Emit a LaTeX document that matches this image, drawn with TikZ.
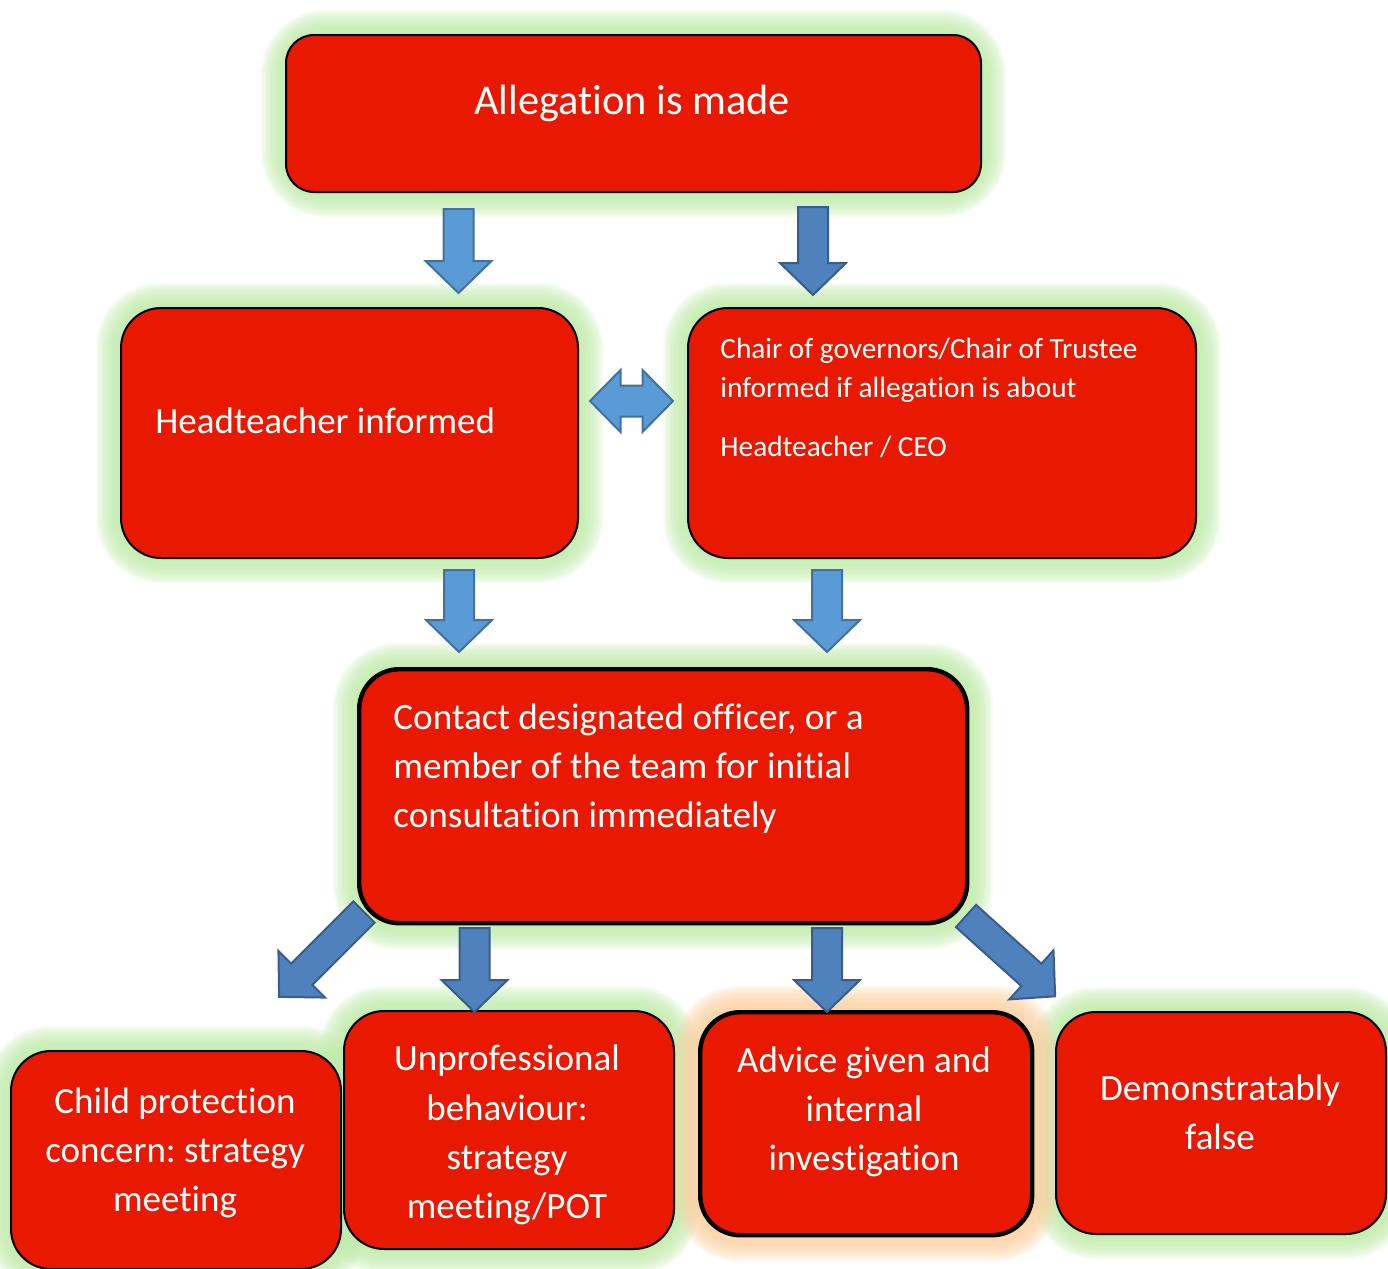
\documentclass[tikz,border=0pt]{standalone}
\usepackage{fontspec}
\setmainfont{Carlito}[Ligatures=CommonOff]
\frenchspacing
\usetikzlibrary{backgrounds}

\definecolor{boxred}{RGB}{232,25,0}
\definecolor{glowgreen}{RGB}{190,234,168}
\definecolor{gloworange}{RGB}{252,208,160}
\definecolor{lightfill}{RGB}{91,155,213}
\definecolor{lightline}{RGB}{65,113,156}
\definecolor{darkfill}{RGB}{79,129,189}
\definecolor{darkline}{RGB}{56,93,138}

\tikzset{
  downarrow/.pic = {
    \filldraw (-7.5pt,0pt) -- (-7.5pt,-#1pt+16pt) -- (-16.5pt,-#1pt+16pt) -- (0pt,-#1pt)
      -- (16.5pt,-#1pt+16pt) -- (7.5pt,-#1pt+16pt) -- (7.5pt,0pt) -- cycle;
  },
  twoway/.pic = {
    \filldraw (-20.75pt,0pt) -- (-5.5pt,15.5pt) -- (-5.5pt,7.75pt) -- (5.5pt,7.75pt) -- (5.5pt,15.5pt)
      -- (20.75pt,0pt) -- (5.5pt,-15.5pt) -- (5.5pt,-7.75pt) -- (-5.5pt,-7.75pt) -- (-5.5pt,-15.5pt) -- cycle;
  }
}

\begin{document}
\begin{tikzpicture}[
    x=0.5pt, y=-0.5pt,
    box/.style = {draw=black, line width=1pt, fill=boxred, rounded corners=20pt, anchor=north west, inner sep=0pt},
    thickbox/.style = {box, line width=2.2pt},
    txt/.style = {text=white, inner sep=0pt, align=left},
    bigtxt/.style = {txt, font=\fontsize{18.5}{24.6}\selectfont},
    lightarrow/.style = {fill=lightfill, draw=lightline, line width=1pt},
    darkarrow/.style = {fill=darkfill, draw=darkline, line width=1pt}
    ]
    \useasboundingbox (0,0) rectangle (1388,1269);

    \node[box, rounded corners=14pt, minimum width=347.5pt, minimum height=78.5pt] (allegation) at (285,34) {};
    \node[box, minimum width=228.5pt, minimum height=125pt] (head-informed) at (120,307) {};
    \node[box, minimum width=254pt, minimum height=125pt] (chair-informed) at (687,307) {};
    \node[thickbox, minimum width=304pt, minimum height=127pt] (contact-do) at (357,667) {};
    \node[box, minimum width=165pt, minimum height=109pt] (child-prot) at (10,1050) {};
    \node[box, minimum width=165pt, minimum height=119pt] (unprof) at (343,1010) {};
    \node[thickbox, minimum width=166pt, minimum height=111.5pt] (advice) at (698,1010) {};
    \node[box, minimum width=165pt, minimum height=111pt] (demo-false) at (1055,1011) {};

    \begin{scope}[on background layer]
      \foreach \bx in {allegation,head-informed,chair-informed,contact-do,child-prot,unprof,demo-false}
        \foreach \w in {2,4,...,24}
          \draw[glowgreen, opacity=0.15, line width=\w pt, rounded corners=20pt] (\bx.north west) rectangle (\bx.south east);
      \foreach \w in {2,4,...,24}
        \draw[gloworange, opacity=0.15, line width=\w pt, rounded corners=20pt] (advice.north west) rectangle (advice.south east);
    \end{scope}

    \node[txt, font=\fontsize{21.2}{26}\selectfont] (allegation-text) at (632,103) {Allegation is made};
    \node[bigtxt, anchor=west] (head-text) at (155,421) {Headteacher informed};
    \node[txt, anchor=west, font=\fontsize{14.65}{19.5}\selectfont] (chair-text) at (720,398)
      {Chair of governors/Chair of Trustee\\informed if allegation is about\\[10pt]Headteacher / CEO};
    \node[bigtxt, anchor=west, font=\fontsize{18.6}{24.5}\selectfont] (contact-text) at (393,769)
      {Contact designated officer, or a\\member of the team for initial\\consultation immediately};
    \node[bigtxt, align=center] (child-text) at (175,1153) {Child protection\\concern: strategy\\meeting};
    \node[bigtxt, align=center] (unprof-text) at (507,1135) {Unprofessional\\behaviour:\\strategy\\meeting/POT};
    \node[bigtxt, align=center] (advice-text) at (864,1112) {Advice given and\\internal\\investigation};
    \node[bigtxt, align=center] (false-text) at (1220,1112) {Demonstratably\\false};

    \pic[lightarrow] at (458.5,209) {downarrow=42};
    \pic[darkarrow] at (813,207) {downarrow=44};
    \pic[lightarrow] at (631.5,401) {twoway};
    \pic[lightarrow] at (459,570) {downarrow=41};
    \pic[lightarrow] at (827,570) {downarrow=41};
    \pic[darkarrow, rotate=-45] at (364,912) {downarrow=60};
    \pic[darkarrow] at (474.5,928) {downarrow=42};
    \pic[darkarrow] at (827,928) {downarrow=42};
    \pic[darkarrow, rotate=48] at (966,916) {downarrow=60};
\end{tikzpicture}
\end{document}
